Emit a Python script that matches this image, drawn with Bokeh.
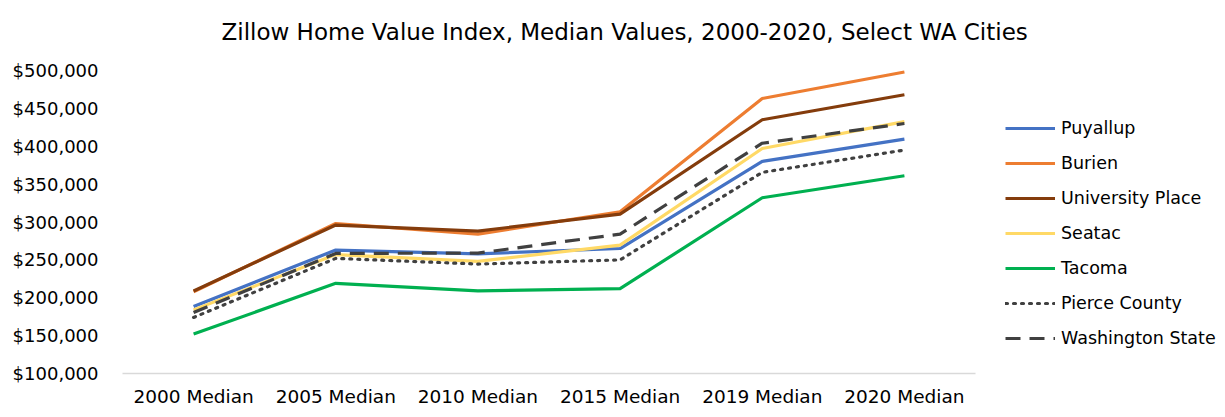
from bokeh.plotting import figure
from bokeh.models import (FixedTicker, NumeralTickFormatter, Legend, LegendItem, Range1d, Label)
from bokeh.embed import file_html
from bokeh.resources import INLINE

categories = ["2000 Median", "2005 Median", "2010 Median", "2015 Median", "2019 Median", "2020 Median"]
series_names = ["Puyallup", "Burien", "University Place", "Seatac", "Tacoma",
                "Pierce County", "Washington State"]
puyallup = [188500, 263000, 258000, 265000, 380000, 409500]
burien = [208000, 298000, 284000, 313500, 463000, 498000]
university_place = [209000, 296000, 288000, 310500, 435000, 468000]
seatac = [184000, 257000, 248000, 269500, 397000, 432500]
tacoma = [152000, 219000, 209000, 212000, 332000, 361000]
pierce_county = [174000, 252000, 244500, 250000, 365500, 395000]
washington_state = [180500, 258500, 259000, 284000, 404000, 430000]
y_ticks = [100000, 150000, 200000, 250000, 300000, 350000, 400000, 450000, 500000]
title_text = "Zillow Home Value Index, Median Values, 2000-2020, Select WA Cities"

FONT = "DejaVu Sans"
W, H = 1225, 417
# plot-area geometry (pixels): left edge, end of category axis, y of top tick, bottom
PL, PR, PT, PB = 122, 975, 70, 373

# category positions on a numeric scale; the frame extends right/up to host legend & title
xpos = list(range(len(categories)))
cat_px = (PR - PL) / len(categories)
x_end = -0.5 + (W - PL) / cat_px
y_lo, y_hi = y_ticks[0], y_ticks[-1]
y_end = y_hi + PT * (y_hi - y_lo) / (PB - PT)

p = figure(width=W, height=H, x_range=Range1d(-0.5, x_end),
           y_range=Range1d(y_lo, y_end), output_backend="svg", toolbar_location=None,
           title=None, min_border_left=PL, min_border_right=0, min_border_top=0,
           min_border_bottom=H - PB)
p.outline_line_color = None
p.xgrid.grid_line_color = None
p.ygrid.grid_line_color = None
p.background_fill_color = "white"
p.border_fill_color = "white"

# axes
p.yaxis.ticker = FixedTicker(ticks=y_ticks)
p.yaxis.formatter = NumeralTickFormatter(format="$0,0")
p.yaxis.axis_line_color = None
p.yaxis.major_tick_line_color = None
p.yaxis.minor_tick_line_color = None
p.yaxis.major_label_standoff = 18
p.yaxis.major_label_text_font = FONT
p.yaxis.major_label_text_font_size = "18px"
p.yaxis.major_label_text_color = "#000000"

p.xaxis.ticker = FixedTicker(ticks=xpos)
p.xaxis.major_label_overrides = {i: c for i, c in zip(xpos, categories)}
p.xaxis.bounds = (-0.5, len(categories) - 0.5)
p.xaxis.axis_line_color = "#D9D9D9"
p.xaxis.axis_line_width = 1.5
p.xaxis.major_tick_line_color = None
p.xaxis.minor_tick_line_color = None
p.xaxis.major_label_standoff = 6
p.xaxis.major_label_text_font = FONT
p.xaxis.major_label_text_font_size = "18.5px"
p.xaxis.major_label_text_color = "#000000"

styles = [
    (puyallup, "#4472C4", "solid"),
    (burien, "#ED7D31", "solid"),
    (university_place, "#843C0C", "solid"),
    (seatac, "#FFD966", "solid"),
    (tacoma, "#00B050", "solid"),
    (pierce_county, "#404040", "2 6"),
    (washington_state, "#404040", "15 9"),
]

items = []
for name, (vals, color, dash) in zip(series_names, styles):
    r = p.line(x=xpos, y=vals, line_color=color, line_width=3.2, line_dash=dash,
               line_cap="round" if dash == "2 6" else "butt", line_join="round")
    items.append(LegendItem(label=name, renderers=[r]))

legend = Legend(items=items, location=(1005 - PL, 24), border_line_color=None,
                background_fill_alpha=0, padding=0, margin=0, spacing=13,
                glyph_width=50, glyph_height=22, label_height=22, label_standoff=6,
                label_text_font=FONT, label_text_font_size="17.5px",
                label_text_color="#000000")
p.add_layout(legend, "center")

title = Label(x=221 - PL, y=PB - 31, x_units="screen", y_units="screen",
              text=title_text, text_align="left", text_baseline="alphabetic",
              text_font=FONT, text_font_size="23px", text_color="#000000")
p.add_layout(title)

open("out.html", "w").write(file_html(p, INLINE))
